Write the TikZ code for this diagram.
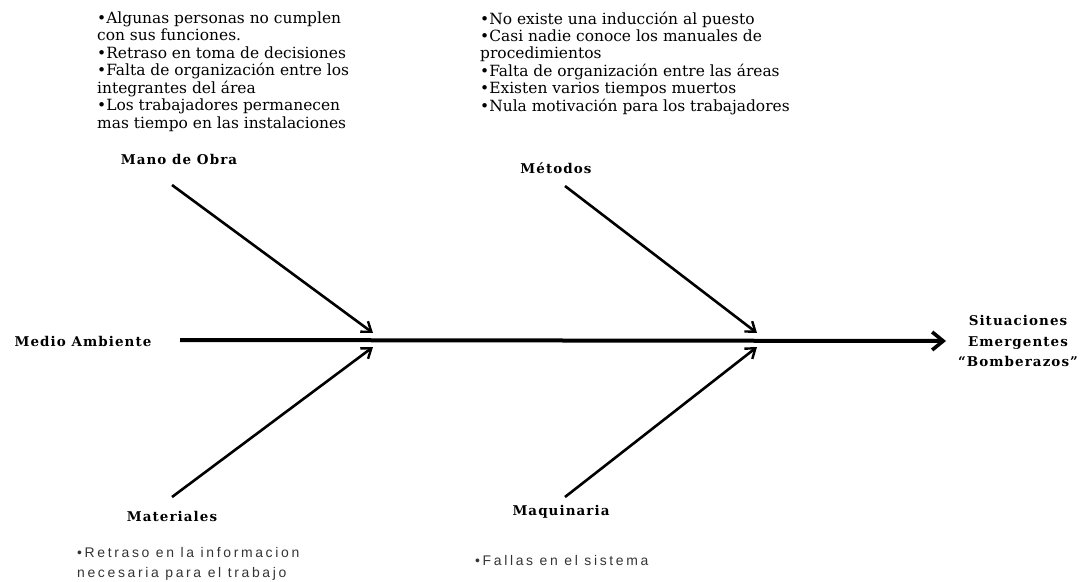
\documentclass[tikz,border=0pt]{standalone}
\usepackage{fontspec}
\setmainfont{DejaVu Serif}
\newfontfamily\labelfont[LetterSpace=8]{DejaVu Serif}
\newfontfamily\causefont[LetterSpace=19]{Liberation Sans}
\usetikzlibrary{arrows.meta}
\begin{document}
\begin{tikzpicture}[x=1bp,y=-1bp,
  lbl/.style={font=\labelfont\fontsize{13.5}{20.5}\selectfont\bfseries, inner sep=0pt},
  notes/.style={font=\fontsize{15.5}{17.5}\selectfont, align=left, anchor=north west, inner sep=0pt},
  snotes/.style={font=\causefont\fontsize{14}{20}\selectfont, text=black!80, align=left, anchor=north west, inner sep=0pt},
  bone/.style={line width=2.6bp, -{Straight Barb[length=9bp, width=13bp, line width=2.4bp]}},
  spine/.style={line width=4bp, -{Straight Barb[length=11bp, width=18bp, line width=3.6bp]}}]
  \useasboundingbox (0,0) rectangle (1080,582);

  % effect and category labels
  \node[lbl, align=center] (effect) at (1018,341) {Situaciones\\Emergentes\\“Bomberazos”};
  \node[lbl] (medio) at (83,341) {Medio Ambiente};
  \node[lbl] (mano) at (179,159) {Mano de Obra};
  \node[lbl] (metodos) at (556,168) {Métodos};
  \node[lbl] (mater) at (172,516) {Materiales};
  \node[lbl] (maqui) at (561,512) {Maquinaria};

  % cause lists
  \node[notes] (cMano) at (97,11.5) {•Algunas personas no cumplen\\con sus funciones.\\•Retraso en toma de decisiones\\•Falta de organización  entre los\\integrantes del área\\•Los trabajadores permanecen\\mas tiempo en las instalaciones};
  \node[notes] (cMet) at (480,11.5) {•No existe una inducción al puesto\\•Casi nadie conoce los manuales de\\procedimientos\\•Falta de organización  entre las áreas\\•Existen varios tiempos muertos\\•Nula motivación para los trabajadores};
  \node[snotes] (cMat) at (77,547) {•Retraso en la informacion\\necesaria para el trabajo};
  \node[snotes] (cMaq) at (475,555) {•Fallas en el sistema};

  % spine and bone end points
  \coordinate (spineL) at (180,340);
  \coordinate (jA) at (373,333);
  \coordinate (jB) at (373,347);
  \coordinate (jC) at (757,333);
  \coordinate (jD) at (757,347);
  \coordinate (sMano) at (172,185);
  \coordinate (sMat) at (172,497);
  \coordinate (sMet) at (565,186);
  \coordinate (sMaq) at (565,497);

  \draw[spine] (spineL) -- (effect.west -| 946,0);
  \draw[bone] (sMano) -- (jA);
  \draw[bone] (sMat) -- (jB);
  \draw[bone] (sMet) -- (jC);
  \draw[bone] (sMaq) -- (jD);
\end{tikzpicture}
\end{document}
